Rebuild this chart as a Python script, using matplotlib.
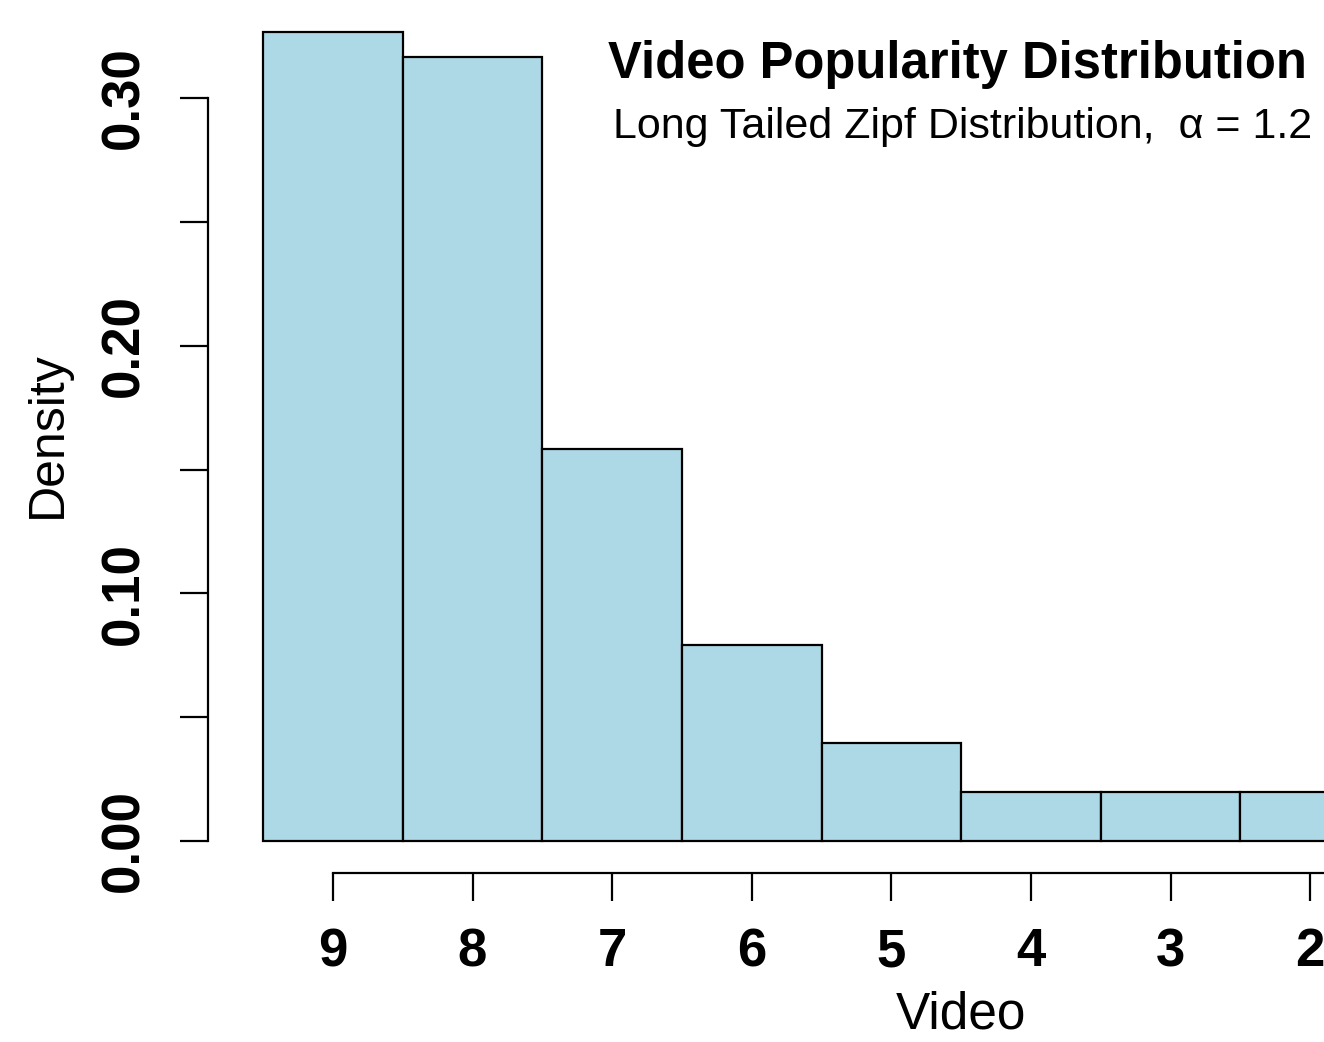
import matplotlib
matplotlib.use('Agg')
import matplotlib.pyplot as plt

# Zipf-distributed video popularity (density per video rank)
videos = [9, 8, 7, 6, 5, 4, 3, 2]
density = [0.3267, 0.3166, 0.1583, 0.0791, 0.0396, 0.0198, 0.0198, 0.0198]

y_ticks = [0.0, 0.05, 0.10, 0.15, 0.20, 0.25, 0.30]
y_labels = ['0.00', '', '0.10', '', '0.20', '', '0.30']

plt.rcParams['font.family'] = ['Liberation Sans', 'DejaVu Sans']

W, H = 1324, 1042
fig = plt.figure(figsize=(W / 100, H / 100), dpi=100)
ax = fig.add_axes([208 / W, (H - 873) / H, (W - 208) / W, 873 / H])

ax.bar(videos, density, width=1.0, color='#ADD8E6', edgecolor='black', linewidth=1.6)

ax.set_xlim(9.895, 1.901)
ax.set_ylim(-0.01292, 0.3396)

ax.spines['top'].set_visible(False)
ax.spines['right'].set_visible(False)
ax.spines['left'].set_bounds(0, 0.30)
ax.spines['bottom'].set_bounds(1.901, 9)
for s in ['left', 'bottom']:
    ax.spines[s].set_linewidth(1.6)

ax.set_xticks(videos)
ax.set_xticklabels([str(v) for v in videos], fontsize=38, fontweight='bold')
ax.set_yticks(y_ticks)
ax.set_yticklabels(y_labels, fontsize=38, fontweight='bold', rotation=90, va='center')
ax.tick_params(axis='both', length=20, width=1.6, direction='out')
ax.tick_params(axis='x', pad=19)
ax.tick_params(axis='y', pad=22)

fig.text(961 / W, 1 - 1015 / H, 'Video', fontsize=37, ha='center', va='center')
fig.text(48 / W, 1 - 435 / H, 'Density', fontsize=36, ha='center', va='center', rotation=90)

fig.text(1307 / W, 1 - 78 / H, 'Video Popularity Distribution', fontsize=36.5,
         fontweight='bold', ha='right', va='baseline')
fig.text(1312 / W, 1 - 138 / H, 'Long Tailed Zipf Distribution,  \u03b1 = 1.2', fontsize=31,
         ha='right', va='baseline')

fig.savefig('out.png', dpi=100)
